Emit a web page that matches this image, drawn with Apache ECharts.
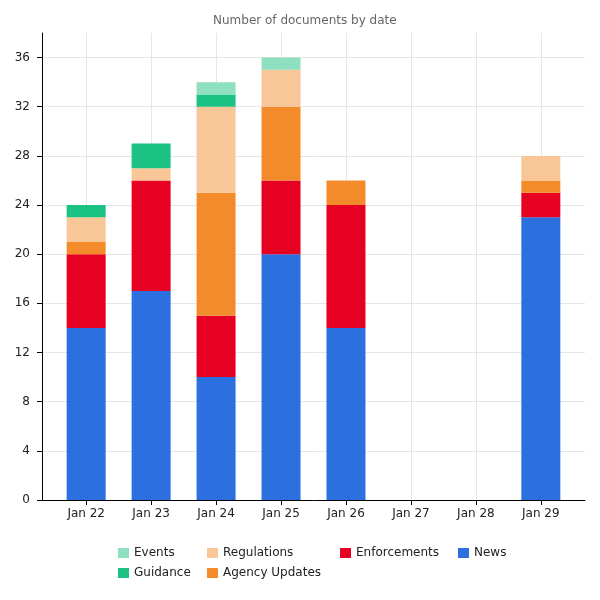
<!DOCTYPE html>
<html><head><meta charset="utf-8">
<script src="https://cdn.jsdelivr.net/npm/echarts@6/dist/echarts.min.js"></script>
<style>html,body{margin:0;padding:0;background:#fff}#c{width:600px;height:600px}</style>
</head><body><div id="c"></div>
<script>
const categories = ['Jan 22','Jan 23','Jan 24','Jan 25','Jan 26','Jan 27','Jan 28','Jan 29'];
const news = [14,17,10,20,14,0,0,23];
const enforcements = [6,9,5,6,10,0,0,2];
const agencyUpdates = [1,0,10,6,2,0,0,1];
const regulations = [2,1,7,3,0,0,0,2];
const guidance = [1,2,1,0,0,0,0,0];
const events = [0,0,1,1,0,0,0,0];
const yTicks = [0,4,8,12,16,20,24,28,32,36];

const idx = categories.map((_, i) => i);
const font = 'DejaVu Sans';
function mk(name, arr, color){
  return {name, type:'bar', stack:'total', barWidth:39, itemStyle:{color},
    encode:{x:1, y:0},
    data: arr.map((v,i)=>[v,i])};
}
const series = [
  mk('News', news, '#2c6fdf'),
  mk('Enforcements', enforcements, '#e60021'),
  mk('Agency Updates', agencyUpdates, '#f48b2a'),
  mk('Regulations', regulations, '#f8c697'),
  mk('Guidance', guidance, '#1bc283'),
  mk('Events', events, '#8fdfc1')
];
const legendBase = {orient:'vertical', icon:'rect', itemWidth:11, itemHeight:10, itemGap:8,
  textStyle:{fontFamily:font, fontSize:12, color:'#222'}};
const chart = echarts.init(document.getElementById('c'), null, {renderer:'canvas'});
chart.setOption({
  animation:false,
  textStyle:{fontFamily:font},
  title:{text:'Number of documents by date', left:208, top:10,
    textStyle:{fontFamily:font, fontSize:12, fontWeight:'normal', color:'#666'}},
  legend:[
    Object.assign({left:113, top:542, data:['Events','Guidance']}, legendBase),
    Object.assign({left:202, top:542, data:['Regulations','Agency Updates']}, legendBase),
    Object.assign({left:335, top:542, data:['Enforcements']}, legendBase),
    Object.assign({left:453, top:542, data:['News']}, legendBase)
  ],
  grid:{left:42, right:15, top:33, bottom:100, containLabel:false},
  xAxis:{type:'value', min:-0.68, max:7.68,
    axisLine:{show:true, onZero:false, lineStyle:{color:'#000'}},
    axisTick:{show:true, length:5, customValues:idx, lineStyle:{color:'#000'}},
    axisLabel:{customValues:idx, formatter:v=>categories[Math.round(v)], color:'#222', fontSize:12, fontFamily:font, margin:8},
    splitLine:{show:true, lineStyle:{color:'#e6e6e6'}}
  },
  yAxis:{type:'value', min:0, max:38,
    axisLine:{show:true, onZero:false, lineStyle:{color:'#000'}},
    axisTick:{show:true, length:5, customValues:yTicks, lineStyle:{color:'#000'}},
    axisLabel:{customValues:yTicks, color:'#222', fontSize:12, fontFamily:font, margin:12},
    splitLine:{show:true, lineStyle:{color:'#e6e6e6'}}
  },
  series
});
</script></body></html>
